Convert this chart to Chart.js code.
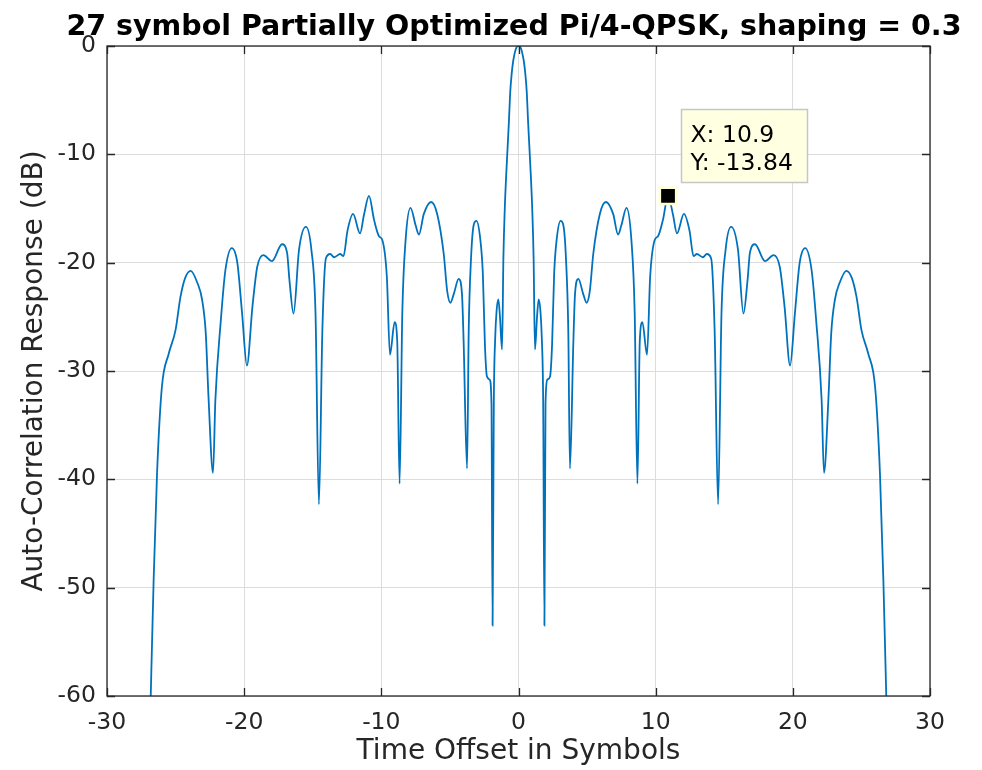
<!DOCTYPE html>
<html>
<head>
<meta charset="utf-8">
<script src="https://cdn.jsdelivr.net/npm/chart.js@4.4.1/dist/chart.umd.min.js"></script>
<style>
  body { margin: 0; background: #fff; }
  #wrap { width: 982px; height: 770px; position: relative; }
</style>
</head>
<body>
<div id="wrap"><canvas id="myChart"></canvas></div>
<script>
'use strict';

// ----------------- data ------------------------------------
var offsets = [
  -26.85, -26.6, -26.35, -26.0, -25.5, -25.0, -24.65, -24.3, -23.9, -23.4,
  -23.07, -22.8, -22.6, -22.27, -22.1, -21.7, -21.37, -20.9, -20.5, -20.15,
  -19.8, -19.4, -19.05, -18.6, -17.97, -17.24, -16.87, -16.7, -16.4, -16.0,
  -15.5, -15.1, -14.8, -14.55, -14.3, -14.04, -13.73, -13.44, -13.0, -12.76,
  -12.47, -12.06, -11.55, -11.26, -10.9, -10.53, -10.17, -9.93, -9.6, -9.37,
  -9.03, -8.84, -8.67, -8.47, -8.23, -7.87, -7.5, -7.26, -6.9, -6.37,
  -5.93, -5.45, -5.2, -4.96, -4.72, -4.36, -4.12, -4.0, -3.75, -3.63,
  -3.46, -3.27, -3.07, -2.78, -2.6, -2.45, -2.3, -2.1, -1.97, -1.89,
  -1.8, -1.7, -1.6, -1.47, -1.35, -1.2, -1.1, -1.0, -0.9, -0.8,
  -0.7, -0.6, -0.5, -0.4, -0.3, -0.2, -0.1, 0,
  0.1, 0.2, 0.3, 0.4, 0.5, 0.6, 0.7, 0.8, 0.9, 1.0,
  1.1, 1.2, 1.35, 1.47, 1.6, 1.7, 1.8, 1.89, 1.97, 2.1,
  2.3, 2.45, 2.6, 2.78, 3.07, 3.27, 3.46, 3.63, 3.75, 4.0,
  4.12, 4.36, 4.72, 4.96, 5.2, 5.45, 5.93, 6.37, 6.9, 7.26,
  7.5, 7.87, 8.23, 8.47, 8.67, 8.84, 9.03, 9.37, 9.6, 9.93,
  10.17, 10.53, 10.9, 11.26, 11.55, 12.06, 12.47, 12.76, 13.0, 13.44,
  13.73, 14.04, 14.3, 14.55, 14.8, 15.1, 15.5, 16.0, 16.4, 16.7,
  16.87, 17.24, 17.97, 18.6, 19.05, 19.4, 19.8, 20.15, 20.5, 20.9,
  21.37, 21.7, 22.1, 22.27, 22.6, 22.8, 23.07, 23.4, 23.9, 24.3,
  24.65, 25.0, 25.5, 26.0, 26.35, 26.6, 26.85
];

var responseDb = [
  -62, -49.3, -39.4, -31.5, -28.4, -26.2, -23.2, -21.4, -20.75, -21.9,
  -23.4, -26.5, -32.4, -39.4, -32.7, -25.3, -20.7, -18.65, -20.0, -24.7,
  -29.5, -24.1, -20.4, -19.3, -19.85, -18.3, -19.1, -21.6, -24.7, -18.8,
  -16.7, -18.8, -24.6, -42.3, -26.3, -19.6, -19.2, -19.5, -19.2, -19.4,
  -17.06, -15.5, -17.3, -15.55, -13.84, -16.05, -17.56, -17.9, -21.26, -28.5,
  -25.5, -27.3, -40.4, -24.6, -17.9, -14.94, -16.55, -17.4, -15.5, -14.4,
  -15.5, -19.2, -22.6, -23.7, -22.9, -21.5, -22.9, -27.3, -39.0, -26.3,
  -19.6, -16.55, -16.15, -17.9, -21, -27.5, -30.5, -30.8, -33, -53.5,
  -33, -27, -24.5, -23.4, -25, -28, -19.5, -15, -12, -9.5,
  -7, -4.2, -2.6, -1.5, -0.8, -0.3, -0.05, 0,
  -0.05, -0.3, -0.8, -1.5, -2.6, -4.2, -7, -9.5, -12, -15,
  -19.5, -28, -25, -23.4, -24.5, -27, -33, -53.5, -33, -30.8,
  -30.5, -27.5, -21, -17.9, -16.15, -16.55, -19.6, -26.3, -39.0, -27.3,
  -22.9, -21.5, -22.9, -23.7, -22.6, -19.2, -15.5, -14.4, -15.5, -17.4,
  -16.55, -14.94, -17.9, -24.6, -40.4, -27.3, -25.5, -28.5, -21.26, -17.9,
  -17.56, -16.05, -13.84, -15.55, -17.3, -15.5, -17.06, -19.4, -19.2, -19.5,
  -19.2, -19.6, -26.3, -42.3, -24.6, -18.8, -16.7, -18.8, -24.7, -21.6,
  -19.1, -18.3, -19.85, -19.3, -20.4, -24.1, -29.5, -24.7, -20.0, -18.65,
  -20.7, -25.3, -32.7, -39.4, -32.4, -26.5, -23.4, -21.9, -20.75, -21.4,
  -23.2, -26.2, -28.4, -31.5, -39.4, -49.3, -62
];

var xTicks = [-30, -20, -10, 0, 10, 20, 30];
var yTicks = [-60, -50, -40, -30, -20, -10, 0];

// data tip shown on the plot
var tipX = 10.9;
var tipY = -13.84;

var titleText = '27 symbol Partially Optimized Pi/4-QPSK, shaping = 0.3';
var xLabel = 'Time Offset in Symbols';
var yLabel = 'Auto-Correlation Response (dB)';

// ----------------- styles ------------------
var fontName = '"DejaVu Sans", Arial, sans-serif';
var axisColor = '#262626';
var lineColor = '#0072bd';

var points = [];
for (var i = 0; i < offsets.length; i++) {
  points.push({ x: offsets[i], y: responseDb[i] });
}

// ------------------------- frame, inward ticks, titles and datatip -------------------------
var matlabFrame = {
  id: 'matlabFrame',
  afterDraw: function (chart) {
    var ctx = chart.ctx;
    var area = chart.chartArea;
    var xs = chart.scales.x;
    var ys = chart.scales.y;
    var tickLen = 8;
    ctx.save();

    ctx.strokeStyle = axisColor;
    ctx.lineWidth = 1.3;
    ctx.strokeRect(area.left, area.top, area.right - area.left, area.bottom - area.top);

    ctx.beginPath();
    for (var a = 0; a < xTicks.length; a++) {
      var px = Math.round(xs.getPixelForValue(xTicks[a])) + 0.5;
      ctx.moveTo(px, area.bottom);
      ctx.lineTo(px, area.bottom - tickLen);
      ctx.moveTo(px, area.top);
      ctx.lineTo(px, area.top + tickLen);
    }
    for (var b = 0; b < yTicks.length; b++) {
      var py = Math.round(ys.getPixelForValue(yTicks[b])) + 0.5;
      ctx.moveTo(area.left, py);
      ctx.lineTo(area.left + tickLen, py);
      ctx.moveTo(area.right, py);
      ctx.lineTo(area.right - tickLen, py);
    }
    ctx.stroke();

    // title
    ctx.fillStyle = '#000';
    ctx.font = 'bold 28.5px ' + fontName;
    ctx.textAlign = 'center';
    ctx.textBaseline = 'alphabetic';
    ctx.fillText(titleText, 514, 35);

    // axis labels
    ctx.fillStyle = axisColor;
    ctx.font = '28px ' + fontName;
    ctx.textBaseline = 'middle';
    ctx.fillText(xLabel, (area.left + area.right) / 2, 752);
    ctx.save();
    ctx.translate(35, (area.top + area.bottom) / 2);
    ctx.rotate(-Math.PI / 2);
    ctx.fillText(yLabel, 0, 0);
    ctx.restore();

    // datatip box
    var mx = xs.getPixelForValue(tipX);
    var my = ys.getPixelForValue(tipY);
    var bx = Math.round(mx + 13) + 0.5;
    var by = Math.round(my - 87) + 0.5;
    ctx.fillStyle = '#ffffe1';
    ctx.strokeStyle = '#c6c6c6';
    ctx.lineWidth = 1.5;
    ctx.fillRect(bx, by, 126, 73);
    ctx.strokeRect(bx, by, 126, 73);
    ctx.fillStyle = '#000';
    ctx.font = '23.5px ' + fontName;
    ctx.textAlign = 'left';
    ctx.textBaseline = 'alphabetic';
    ctx.fillText('X: ' + tipX, bx + 9, by + 32);
    ctx.fillText('Y: ' + tipY, bx + 9, by + 60);

    ctx.restore();
  }
};

var ctx = document.getElementById('myChart').getContext('2d');
var chart = new Chart(ctx, {
  type: 'scatter',
  data: {
    datasets: [
      {
        label: 'auto-correlation',
        data: points,
        showLine: true,
        borderColor: lineColor,
        borderWidth: 1.8,
        pointRadius: 0,
        cubicInterpolationMode: 'monotone',
        order: 2
      },
      {
        label: 'datatip',
        data: [{ x: tipX, y: tipY }],
        pointStyle: 'rect',
        pointRadius: 11.5,
        backgroundColor: '#000',
        borderColor: '#ffffd2',
        borderWidth: 2.5,
        order: 1
      }
    ]
  },
  plugins: [matlabFrame],
  options: {
    responsive: true,
    maintainAspectRatio: false,
    animation: false,
    devicePixelRatio: 1,
    layout: { padding: { left: 0, right: 52, top: 46, bottom: 0 } },
    plugins: {
      legend: { display: false },
      tooltip: { enabled: false },
      title: { display: false }
    },
    scales: {
      x: {
        type: 'linear',
        min: -30,
        max: 30,
        afterBuildTicks: function (scale) {
          scale.ticks = xTicks.map(function (v) { return { value: v }; });
        },
        afterFit: function (scale) { scale.height = 74; },
        ticks: {
          color: axisColor,
          padding: 13,
          maxRotation: 0,
          font: { family: fontName, size: 23.5 },
          callback: function (v) { return String(v); }
        },
        grid: { color: '#dcdcdc', lineWidth: 1, drawTicks: false },
        border: { display: false }
      },
      y: {
        type: 'linear',
        min: -60,
        max: 0,
        afterBuildTicks: function (scale) {
          scale.ticks = yTicks.map(function (v) { return { value: v }; });
        },
        afterFit: function (scale) { scale.width = 107; },
        ticks: {
          color: axisColor,
          padding: 11,
          font: { family: fontName, size: 23.5 },
          callback: function (v) { return String(v); }
        },
        grid: { color: '#dcdcdc', lineWidth: 1, drawTicks: false },
        border: { display: false }
      }
    }
  }
});
</script>
</body>
</html>
